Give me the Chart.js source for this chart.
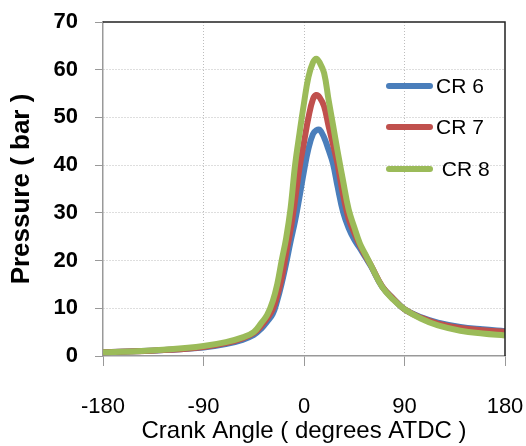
<!DOCTYPE html>
<html>
<head>
<meta charset="utf-8">
<script src="https://cdn.jsdelivr.net/npm/chart.js@4"></script>
<style>
  html, body { margin: 0; padding: 0; background: #fff; }
  #wrap { width: 526px; height: 446px; }
</style>
</head>
<body>
<div id="wrap"><canvas id="pressureChart"></canvas></div>
<script>
// crank angle (degrees ATDC) and cylinder pressure (bar) for each compression ratio
const angles = [-180, -150, -120, -90, -70, -55, -45, -38, -33, -28, -24, -20, -16, -12, -8, -4, 0, 4, 8, 11,
                14, 18, 22, 26, 30, 35, 40, 45, 50, 55, 60, 70, 80, 90, 105, 120, 140, 160, 180];
const cr6 = [0.8, 1.0, 1.3, 1.8, 2.5, 3.4, 4.4, 5.8, 7.2, 8.8, 11.6, 15.2, 19.4, 24.0, 28.3, 33.4, 38.8, 43.5, 46.5, 47.3,
             47.4, 45.8, 43.2, 40.3, 35.6, 30.2, 26.8, 24.4, 22.6, 20.7, 18.8, 14.5, 12.0, 9.8, 8.1, 7.0, 6.1, 5.6, 5.2];
const cr7 = [0.8, 1.0, 1.3, 1.9, 2.7, 3.7, 4.8, 6.4, 7.9, 9.8, 12.6, 16.3, 21.5, 26.5, 32.7, 39.5, 44.8, 50.0, 53.8, 54.7,
             54.2, 52.3, 48.2, 44.3, 40.3, 33.8, 28.8, 25.8, 23.2, 21.0, 19.0, 14.6, 12.0, 9.8, 8.0, 6.8, 5.9, 5.4, 5.1];
const cr8 = [0.8, 1.0, 1.4, 2.1, 2.9, 3.9, 5.0, 7.0, 8.6, 11.5, 15.0, 20.0, 24.7, 31.0, 40.0, 46.7, 53.0, 58.5, 61.5, 62.3,
             61.5, 59.3, 53.7, 48.4, 43.0, 36.7, 30.7, 27.0, 23.6, 21.3, 19.0, 14.5, 11.8, 9.8, 7.8, 6.4, 5.3, 4.7, 4.3];
const seriesNames = ['CR 6', 'CR 7', ' CR 8'];
const seriesColors = ['#4a7ebb', '#c0504d', '#9bbb59'];

const toPoints = arr => arr.map((p, i) => ({ x: angles[i], y: p }));

// frame on top/right + legend inside the plot
const framePlugin = {
    id: 'frame',
    afterDraw(chart) {
        const { ctx, chartArea: a } = chart;
        ctx.save();
        ctx.strokeStyle = '#222';
        ctx.lineWidth = 1.5;
        ctx.beginPath();
        ctx.moveTo(a.left, a.top);
        ctx.lineTo(a.right, a.top);
        ctx.lineTo(a.right, a.bottom);
        ctx.stroke();

        // legend
        const rows = [86, 127, 169];
        ctx.lineWidth = 6;
        ctx.lineCap = 'round';
        ctx.font = '21px "Liberation Sans", Arial, sans-serif';
        ctx.textBaseline = 'middle';
        ctx.fillStyle = '#000';
        chart.data.datasets.forEach((ds, i) => {
            const y = rows[i];
            ctx.strokeStyle = ds.borderColor;
            ctx.beginPath();
            ctx.moveTo(389, y);
            ctx.lineTo(430, y);
            ctx.stroke();
            ctx.fillText(ds.label, 436, y + 1);
        });
        ctx.restore();
    }
};

const edgeClear = (ctx, lo, hi) => {
    const v = ctx.tick ? ctx.tick.value : null;
    return (v === lo || v === hi) ? 'rgba(0,0,0,0)' : '#bdbdbd';
};

new Chart(document.getElementById('pressureChart'), {
    type: 'line',
    data: {
        datasets: [0, 1, 2].map(i => ({
            label: seriesNames[i],
            data: toPoints([cr6, cr7, cr8][i]),
            borderColor: seriesColors[i],
            borderWidth: 6,
            pointRadius: 0,
            tension: 0.4,
            order: 2 - i
        }))
    },
    options: {
        responsive: true,
        maintainAspectRatio: false,
        animation: false,
        layout: { padding: { left: 0, right: 21, top: 22, bottom: 0 } },
        plugins: { legend: { display: false }, tooltip: { enabled: false } },
        scales: {
            x: {
                type: 'linear',
                min: -180,
                max: 180,
                afterFit: s => { s.height = 90; s.paddingLeft = 0; s.paddingRight = 0; },
                ticks: {
                    stepSize: 90,
                    padding: 28,
                    color: '#000',
                    font: { family: '"Liberation Sans", Arial, sans-serif', size: 22 }
                },
                grid: {
                    color: c => edgeClear(c, -180, 180),
                    tickColor: '#999',
                    tickLength: 10
                },
                border: { color: '#999', width: 1.5, dash: [1, 2] },
                title: {
                    display: true,
                    text: 'Crank Angle ( degrees ATDC )',
                    color: '#000',
                    padding: { top: 0, bottom: 0 },
                    font: { family: '"Liberation Sans", Arial, sans-serif', size: 24 }
                }
            },
            y: {
                min: 0,
                max: 70,
                afterFit: s => { s.width = 103; s.paddingTop = 0; s.paddingBottom = 0; },
                ticks: {
                    stepSize: 10,
                    padding: 17,
                    color: '#000',
                    font: { family: '"Liberation Sans", Arial, sans-serif', size: 22, weight: 'bold' }
                },
                grid: {
                    color: c => edgeClear(c, 0, 70),
                    tickColor: '#999',
                    tickLength: 8
                },
                border: { color: '#999', width: 1.5, dash: [1, 2] },
                title: {
                    display: true,
                    text: 'Pressure ( bar )',
                    color: '#000',
                    padding: { top: 6, bottom: 0 },
                    font: { family: '"Liberation Sans", Arial, sans-serif', size: 26, weight: 'bold' }
                }
            }
        }
    },
    plugins: [framePlugin]
});
</script>
</body>
</html>
